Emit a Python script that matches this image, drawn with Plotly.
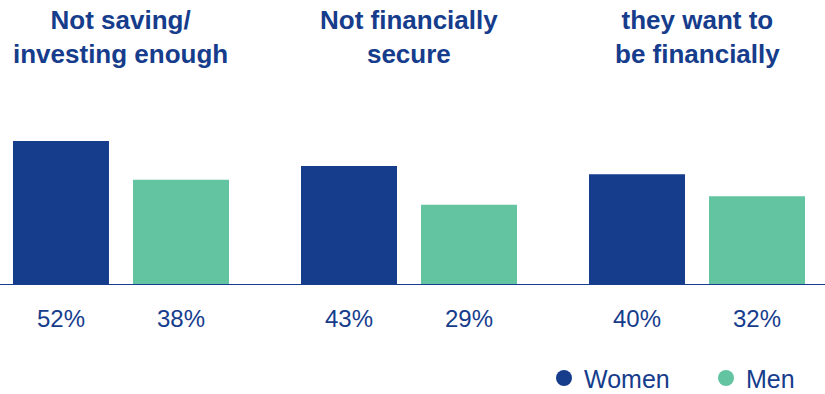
import plotly.graph_objects as go

categories = ["Not saving/<br>investing enough", "Not financially<br>secure", "they want to<br>be financially"]
women = [52, 43, 40]
men = [38, 29, 32]
series_names = ["Women", "Men"]

NAVY = "#163C8C"
GREEN = "#63C4A1"
FONT = "Liberation Sans, Arial, sans-serif"

xs = list(range(len(categories)))

fig = go.Figure()
fig.add_trace(go.Bar(x=xs, y=women, name=series_names[0], marker=dict(color=NAVY, line=dict(width=0)), showlegend=False))
fig.add_trace(go.Bar(x=xs, y=men, name=series_names[1], marker=dict(color=GREEN, line=dict(width=0)), showlegend=False))
# legend entries as round dots
fig.add_trace(go.Scatter(x=[None], y=[None], mode="markers", name=series_names[0],
                         marker=dict(color=NAVY, size=18, symbol="circle")))
fig.add_trace(go.Scatter(x=[None], y=[None], mode="markers", name=series_names[1],
                         marker=dict(color=GREEN, size=18, symbol="circle")))

annotations = []
for i, cat in enumerate(categories):
    annotations.append(dict(x=i, y=1, xref="x", yref="paper", yanchor="top", xanchor="center",
                            text="<b>" + cat + "</b>", showarrow=False, yshift=-3,
                            font=dict(family=FONT, size=26, color=NAVY), align="center"))
    for vals, shift in ((women, -60), (men, 60)):
        annotations.append(dict(x=i, y=0, xref="x", yref="y", yanchor="middle", xanchor="center",
                                text=f"{vals[i]}%", showarrow=False, xshift=shift, yshift=-33,
                                font=dict(family=FONT, size=24, color=NAVY)))

fig.update_layout(
    width=825, height=394,
    margin=dict(l=0, r=0, t=0, b=109, autoexpand=False),
    paper_bgcolor="white", plot_bgcolor="white",
    barmode="group", bargap=1/6, bargroupgap=0.2,
    xaxis=dict(range=[-0.4201, 2.4444], showticklabels=False, showgrid=False, zeroline=False,
               showline=False, fixedrange=True),
    yaxis=dict(range=[0, 102.9], visible=False, showgrid=False, zeroline=False, fixedrange=True),
    shapes=[dict(type="line", xref="paper", yref="y", x0=0, x1=1, y0=0, y1=0,
                 line=dict(color=NAVY, width=2), layer="above")],
    annotations=annotations,
    showlegend=True,
    legend=dict(orientation="h", x=0.6594, xanchor="left", y=0.04, yref="container", yanchor="middle",
                font=dict(family=FONT, size=25, color=NAVY), bgcolor="rgba(0,0,0,0)",
                itemwidth=30, tracegroupgap=0, entrywidth=117),
    font=dict(family=FONT, color=NAVY),
)

fig.write_html("out.html")
